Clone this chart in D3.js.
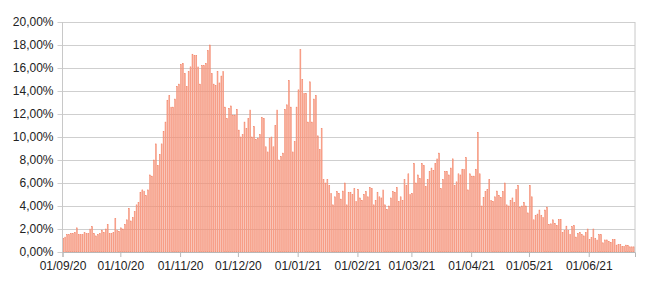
<!DOCTYPE html>
<html>
<head>
<meta charset="utf-8">
<script src="https://cdn.jsdelivr.net/npm/d3@7"></script>
<style>
  body { margin: 0; background: #fff; }
  svg text { font-family: "Liberation Sans", Arial, sans-serif; font-size: 12px; fill: #222; }
</style>
</head>
<body>
<div id="chart"></div>
<script>
// daily values (%), one array per month
var sep20 = [1.2, 1.3, 1.5, 1.5, 1.6, 1.6, 1.7, 2.1, 1.5, 1.5, 1.5, 1.7, 1.6, 1.6, 2.0,
             2.2, 1.6, 1.4, 1.5, 1.6, 1.9, 1.7, 2.0, 2.4, 1.6, 1.6, 1.7, 2.9, 1.9, 1.8];
var oct20 = [2.1, 2.0, 2.4, 2.8, 3.8, 2.7, 3.0, 3.5, 4.1, 4.3, 5.2, 5.4, 5.3, 4.9, 5.4, 6.7,
             6.6, 8.0, 9.4, 7.5, 8.5, 9.4, 10.5, 11.3, 13.2, 13.6, 12.6, 12.6, 13.3, 14.4, 14.6];
var nov20 = [16.3, 16.4, 15.5, 14.4, 15.7, 16.1, 17.2, 17.1, 17.1, 16.1, 14.6, 16.2, 16.2, 16.4, 17.5,
             18.0, 15.5, 14.6, 14.5, 15.7, 14.7, 15.3, 15.7, 12.6, 11.6, 12.5, 12.7, 11.9, 11.9, 12.4];
var dec20 = [10.6, 10.0, 10.2, 11.3, 10.75, 11.6, 12.35, 10.0, 10.9, 9.8, 9.9, 10.2, 11.7, 11.6, 9.15, 8.7,
             9.9, 10.0, 9.15, 11.0, 12.35, 8.0, 8.3, 8.6, 12.4, 12.8, 14.9, 12.6, 8.7, 9.6, 12.6];
var jan21 = [14.1, 17.6, 15.0, 13.8, 13.8, 11.3, 14.8, 11.3, 13.3, 13.6, 10.1, 8.9, 10.75, 6.3, 6.0, 6.3,
             5.8, 5.1, 4.1, 4.8, 5.25, 5.1, 4.6, 5.3, 6.0, 4.1, 5.2, 5.2, 5.0, 5.5, 4.4];
var feb21 = [5.45, 4.7, 4.5, 5.0, 5.25, 4.8, 5.6, 5.5, 4.1, 4.5, 5.2, 4.8, 4.7, 5.4,
             4.1, 3.7, 4.0, 4.7, 5.25, 5.2, 5.6, 4.4, 4.8, 4.5, 6.3, 5.8, 6.8, 5.0];
var mar21 = [5.1, 7.7, 6.0, 6.7, 6.4, 7.7, 7.5, 5.7, 6.3, 7.0, 7.3, 7.1, 7.7, 8.1, 8.6, 5.5,
             6.3, 7.0, 7.0, 6.7, 7.3, 8.1, 5.8, 6.1, 6.8, 6.7, 7.2, 7.2, 8.2, 5.4, 6.8];
var apr21 = [6.6, 6.6, 7.2, 10.4, 6.8, 4.0, 4.75, 5.25, 5.45, 6.3, 4.5, 4.4, 4.8, 5.3, 4.9,
             4.75, 5.25, 6.0, 4.1, 4.0, 4.5, 4.7, 4.3, 5.45, 5.8, 3.9, 4.0, 4.3, 4.0, 3.4];
var may21 = [5.8, 4.8, 2.8, 3.2, 3.3, 3.65, 3.2, 3.0, 3.65, 3.9, 2.4, 2.45, 2.8, 2.5, 2.3, 2.85,
             2.85, 1.7, 1.85, 2.25, 1.85, 1.55, 2.2, 2.3, 1.3, 1.6, 1.7, 1.5, 1.4, 1.7, 2.0];
var jun21 = [1.1, 1.25, 2.0, 1.2, 1.05, 1.5, 1.5, 0.8, 1.05, 1.05, 0.9, 0.85, 1.1, 1.1,
             0.6, 0.65, 0.65, 0.5, 0.5, 0.6, 0.55, 0.45, 0.45, 0.45];

var yTicks = [0, 2, 4, 6, 8, 10, 12, 14, 16, 18, 20];
var xTickLabels = ["01/09/20", "01/10/20", "01/11/20", "01/12/20", "01/01/21",
                   "01/02/21", "01/03/21", "01/04/21", "01/05/21", "01/06/21"];

var parseDay = d3.timeParse("%d/%m/%y");
var startDate = parseDay("01/09/20");
var values = [].concat(sep20, oct20, nov20, dec20, jan21, feb21, mar21, apr21, may21, jun21);
var data = values.map(function(v, i) {
  return { date: d3.timeDay.offset(startDate, i), value: v };
});
var endDate = d3.timeDay.offset(startDate, values.length);

var svgWidth = 650, svgHeight = 287;
var margin = { top: 22, right: 15, bottom: 35, left: 62.5 };
var width = svgWidth - margin.left - margin.right;
var height = svgHeight - margin.top - margin.bottom;

var svg = d3.select("#chart").append("svg")
  .attr("width", svgWidth)
  .attr("height", svgHeight);

var chartGroup = svg.append("g")
  .attr("transform", `translate(${margin.left}, ${margin.top})`);

var x = d3.scaleTime().domain([startDate, endDate]).range([0, width]);
var y = d3.scaleLinear().domain([0, 20]).range([height, 0]);

var pct = function(d) { return d3.format(".2f")(d).replace(".", ",") + "%"; };

// gridlines + left labels
var leftAxis = d3.axisLeft(y).tickValues(yTicks).tickSize(-width - 5).tickFormat(pct).tickPadding(4);
var yG = chartGroup.append("g")
  .attr("transform", "translate(-5,0)")
  .call(leftAxis);
yG.select(".domain").remove();
yG.selectAll(".tick line").attr("stroke", "#cfcfcf").attr("transform", "translate(5,0)").attr("x1", -5).attr("x2", width);
yG.selectAll(".tick text").attr("x", -4);

// bars
var dayW = x(d3.timeDay.offset(startDate, 1)) - x(startDate);
chartGroup.selectAll("rect.bar")
  .data(data)
  .enter()
  .append("rect")
  .attr("class", "bar")
  .attr("x", d => x(d.date) + 0.35)
  .attr("y", d => y(d.value))
  .attr("width", dayW - 1.0)
  .attr("height", d => height - y(d.value))
  .attr("fill", "#fdbcaa")
  .attr("stroke", "#f07455")
  .attr("stroke-width", 0.45);

// left and right frame lines
chartGroup.append("line").attr("x1", 0).attr("x2", 0).attr("y1", 0).attr("y2", height)
  .attr("stroke", "#c8c8c8");
chartGroup.append("line").attr("x1", width).attr("x2", width).attr("y1", 0).attr("y2", height)
  .attr("stroke", "#c8c8c8");

// bottom axis
var bottomAxis = d3.axisBottom(x)
  .tickValues(xTickLabels.map(parseDay))
  .tickFormat(d3.timeFormat("%d/%m/%y"))
  .tickSizeOuter(0)
  .tickSize(5)
  .tickPadding(4);
var xG = chartGroup.append("g")
  .attr("transform", `translate(0, ${height})`)
  .call(bottomAxis);
xG.select(".domain").attr("stroke", "#b8b8b8");
xG.selectAll(".tick line").attr("stroke", "#b8b8b8");
svg.selectAll(".tick text").style("font-size", "12px").attr("fill", "#222");
</script>
</body>
</html>
